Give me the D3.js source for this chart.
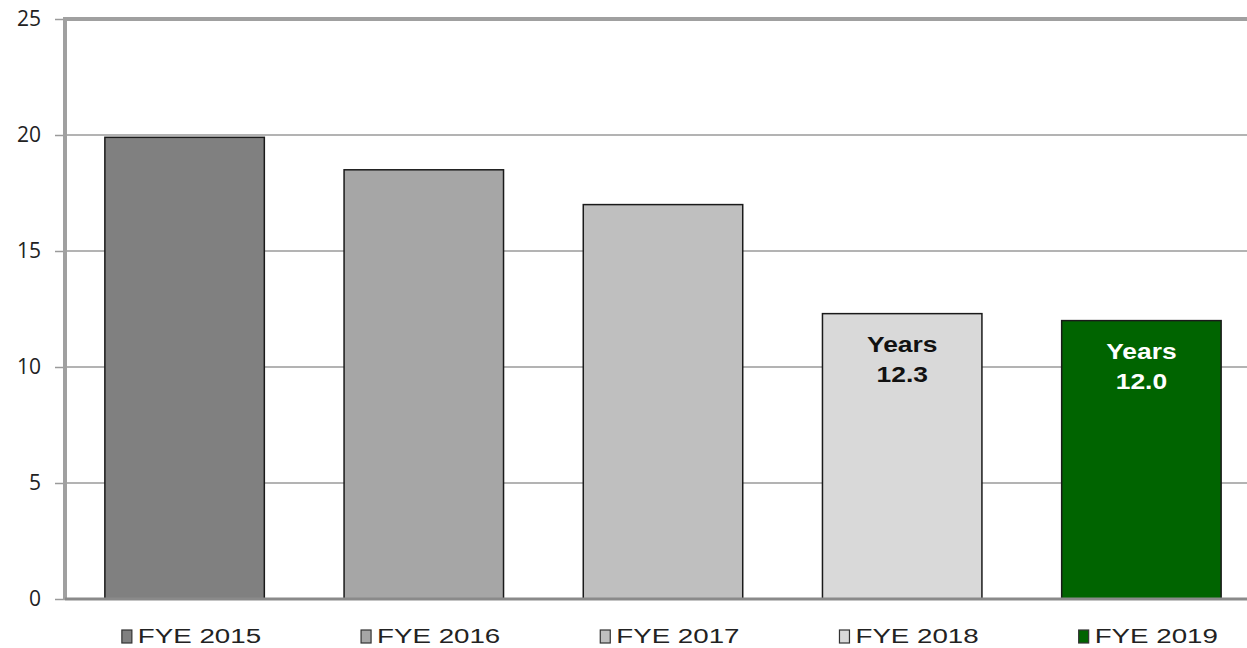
<!DOCTYPE html>
<html><head><meta charset="utf-8">
<script src="https://cdn.jsdelivr.net/npm/d3@7"></script>
<style>body{margin:0;background:#fff;overflow:hidden}svg{display:block}</style>
</head><body>
<svg id="c" width="1247" height="648"></svg>
<script>
const categories = ["FYE 2015","FYE 2016","FYE 2017","FYE 2018","FYE 2019"];
const values = [19.9, 18.5, 17.0, 12.3, 12.0];
const colors = ["#808080","#a6a6a6","#bfbfbf","#d9d9d9","#006400"];
const labelLines = [null, null, null, ["Years","12.3"], ["Years","12.0"]];
const labelColors = ["#000","#000","#000","#111","#fff"];
const yTicks = [0,5,10,15,20,25];

const svg = d3.select("#c");
const x0 = 65, x1 = 1261, yTop = 19, yBot = 599;
const x = d3.scaleBand().domain(categories).range([x0, x1]).paddingInner(1/3).paddingOuter(1/6);
const y = d3.scaleLinear().domain([0,25]).range([yBot, yTop]);

// gridlines
svg.append("g").selectAll("line").data(yTicks.filter(d=>d>0 && d<25)).join("line")
  .attr("x1", x0).attr("x2", 1247).attr("y1", d=>y(d)).attr("y2", d=>y(d))
  .attr("stroke", "#9a9a9a").attr("stroke-width", 1.5);

// y axis
const yAxis = svg.append("g").attr("transform", `translate(${x0},0)`)
  .call(d3.axisLeft(y).tickValues(yTicks).tickSize(10).tickPadding(14));
yAxis.select(".domain").remove();
yAxis.selectAll(".tick line").attr("stroke", "#9a9a9a").attr("stroke-width", 1.5);
yAxis.selectAll(".tick text").attr("font-family", "Open Sans, sans-serif").attr("font-size", 21).attr("fill", "#222");

// bars
svg.append("g").selectAll("rect").data(categories).join("rect")
  .attr("x", d=>x(d)).attr("width", x.bandwidth())
  .attr("y", (d,i)=>y(values[i])).attr("height", (d,i)=>y(0)-y(values[i]))
  .attr("fill", (d,i)=>colors[i]).attr("stroke", "#1a1a1a").attr("stroke-width", 1.5);

// frame lines
svg.append("line").attr("x1", x0).attr("x2", 1247).attr("y1", yTop).attr("y2", yTop)
  .attr("stroke", "#a0a0a0").attr("stroke-width", 4);
svg.append("line").attr("x1", x0).attr("x2", x0).attr("y1", yTop-2).attr("y2", yBot+1)
  .attr("stroke", "#a0a0a0").attr("stroke-width", 4);
svg.append("line").attr("x1", x0).attr("x2", 1247).attr("y1", yBot).attr("y2", yBot)
  .attr("stroke", "#8a8a8a").attr("stroke-width", 3);

// labels in bars
categories.forEach((c,i)=>{
  const lines = labelLines[i];
  if(!lines) return;
  const cx = x(c) + x.bandwidth()/2;
  const top = y(values[i]);
  lines.forEach((t,j)=>{
    svg.append("text").attr("transform", `translate(${cx},${top + 38 + j*30}) scale(1.2,1)`)
      .attr("text-anchor","middle").attr("font-family","Liberation Sans, Arial, sans-serif")
      .attr("font-weight","bold").attr("font-size", 22).attr("fill", labelColors[i]).text(t);
  });
});

// legend
const leg = svg.append("g");
categories.forEach((c,i)=>{
  const lx = x(c) + 17;
  leg.append("rect").attr("x", lx).attr("y", 630).attr("width", 10).attr("height", 13)
    .attr("fill", colors[i]).attr("stroke", "#333").attr("stroke-width", 1.2);
  leg.append("text").attr("transform", `translate(${lx + 16},643) scale(1.32,1)`)
    .attr("font-family","Liberation Sans, Arial, sans-serif").attr("font-size", 21).attr("fill","#222").text(c);
});
</script>
</body></html>
